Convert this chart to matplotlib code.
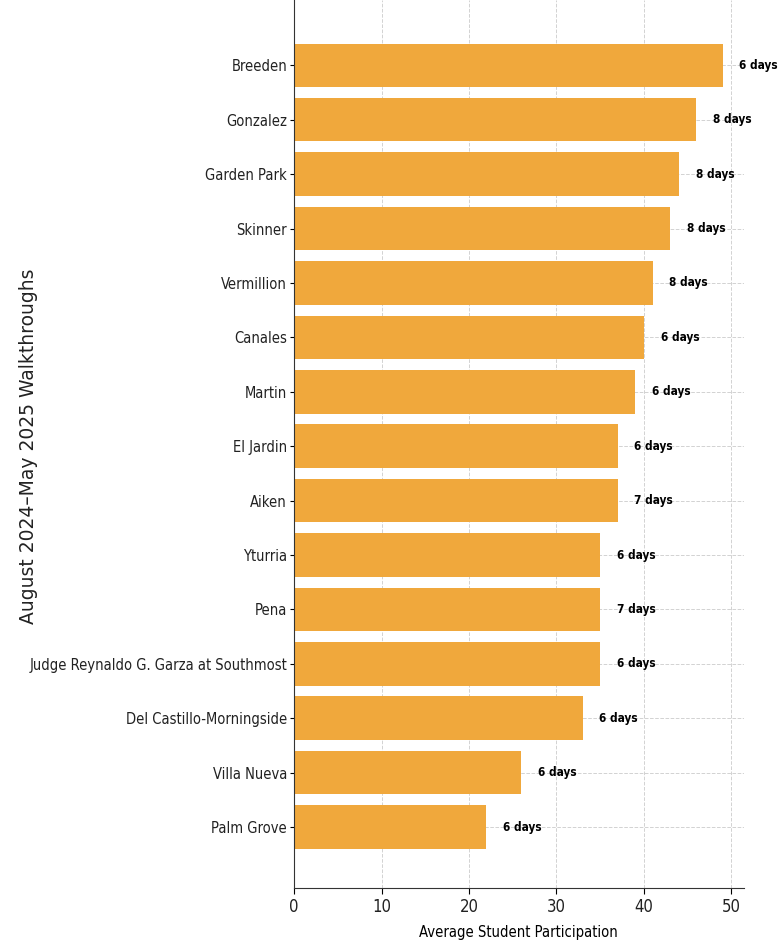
import matplotlib
matplotlib.use('Agg')
import matplotlib.pyplot as plt
from matplotlib import font_manager
from matplotlib.font_manager import FontProperties

schools = ['Breeden', 'Gonzalez', 'Garden Park', 'Skinner', 'Vermillion',
           'Canales', 'Martin', 'El Jardin', 'Aiken', 'Yturria', 'Pena',
           'Judge Reynaldo G. Garza at Southmost', 'Del Castillo-Morningside',
           'Villa Nueva', 'Palm Grove']
participation = [49, 46, 44, 43, 41, 40, 39, 37, 37, 35, 35, 35, 33, 26, 22]
days = [6, 8, 8, 8, 8, 6, 6, 6, 7, 6, 7, 6, 6, 6, 6]

# look for a condensed face (the chart text is squeezed)
files = {f.fname.split('/')[-1]: f.fname for f in font_manager.fontManager.ttflist}
fams = {f.name for f in font_manager.fontManager.ttflist}


def pick(cands, fallback):
    for c in cands:
        if c in files:
            return FontProperties(fname=files[c])
    return fallback


reg = pick(['DejaVuSansCondensed.ttf', 'RobotoCondensed-Regular.ttf',
            'RobotoCondensed[wght].ttf', 'ArchivoNarrow-Regular.ttf',
            'PTSansNarrow-Regular.ttf', 'FiraSansCondensed-Regular.ttf',
            'IBMPlexSansCondensed-Regular.ttf', 'AsapCondensed-Regular.ttf'], None)
bold = pick(['DejaVuSansCondensed-Bold.ttf', 'RobotoCondensed-Bold.ttf',
             'ArchivoNarrow-Bold.ttf', 'PTSansNarrow-Bold.ttf',
             'FiraSansCondensed-Bold.ttf', 'IBMPlexSansCondensed-Bold.ttf',
             'AsapCondensed-Bold.ttf'], None)
if reg is None:
    for name in ['Roboto Condensed', 'Archivo Narrow', 'PT Sans Narrow',
                 'Fira Sans Condensed', 'IBM Plex Sans Condensed',
                 'Asap Condensed', 'Encode Sans Condensed', 'Barlow Semi Condensed']:
        if name in fams:
            reg = FontProperties(family=name)
            break
    else:
        reg = FontProperties(family='DejaVu Sans')
if bold is None:
    bold = reg.copy()
    bold.set_weight('bold')

fig = plt.figure(figsize=(7.82, 9.47), dpi=100)
ax = fig.add_axes([0.376, 0.0623, 0.575, 0.9377])

ax.barh(schools, participation, height=0.8, color='#F0A83C', zorder=2)
ax.invert_yaxis()
ax.set_ylim(15.12, -1.2)
ax.set_xlim(0, 51.4)
ax.set_xticks([0, 10, 20, 30, 40, 50])

for i, (v, d) in enumerate(zip(participation, days)):
    fp = bold.copy()
    fp.set_size(8.5)
    ax.text(v + 1.9, i, f'{d} days', va='center', ha='left', fontproperties=fp)

ax.grid(True, linestyle='--', color='#d2d2d2', linewidth=0.7, zorder=0)
ax.set_axisbelow(True)
for s in ['top', 'right']:
    ax.spines[s].set_visible(False)
ax.spines['left'].set_color('#333333')
ax.spines['bottom'].set_color('#333333')
ax.tick_params(axis='y', length=3, pad=2)
ax.tick_params(axis='x', length=4, pad=3)

tick_fp = reg.copy()
tick_fp.set_size(10.5)
for lab in ax.get_yticklabels():
    lab.set_fontproperties(tick_fp)
    lab.set_color('#222222')
xt_fp = reg.copy()
xt_fp.set_size(12)
for lab in ax.get_xticklabels():
    lab.set_fontproperties(xt_fp)
    lab.set_color('#222222')

xl_fp = reg.copy()
xl_fp.set_size(10.6)
ax.set_xlabel('Average Student Participation', fontproperties=xl_fp, labelpad=7)
fig.text(0.036, 0.529, 'August 2024\u2013May 2025 Walkthroughs', rotation=90,
         va='center', ha='center', fontsize=13.5, color='#222222')

fig.savefig('out.png', dpi=100)
